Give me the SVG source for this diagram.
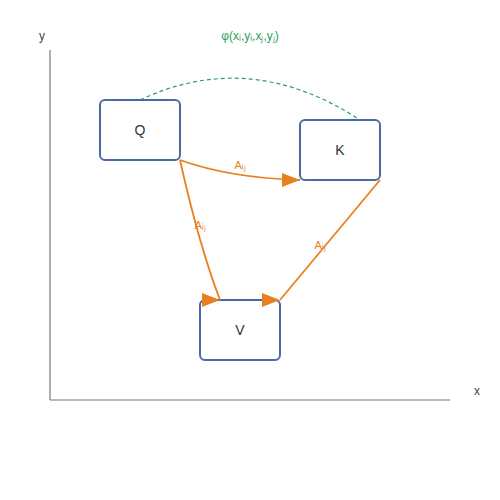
<svg xmlns="http://www.w3.org/2000/svg" width="500" height="500" viewBox="0 0 500 500">
<style>
.axis{stroke:#777;stroke-width:1.2;fill:none}
.axl{font-family:"Liberation Sans",Arial,sans-serif;font-size:12px;fill:#444}
.box{fill:#fff;stroke:#4a69a6;stroke-width:2}
.nt{font-family:"Liberation Sans",Arial,sans-serif;font-size:14px;fill:#333;text-anchor:middle;dominant-baseline:central}
.edge{stroke:#e8801f;stroke-width:1.8;fill:none}
.el{font-family:"Liberation Sans",Arial,sans-serif;font-size:11px;fill:#e8801f;text-anchor:middle}
.phi{stroke:#2ca05a;stroke-width:1.2;fill:none;stroke-dasharray:4,3}
.pl{font-family:"Liberation Sans",Arial,sans-serif;font-size:12px;fill:#2ca05a;text-anchor:middle}
</style>
<defs>
<marker id="arr" markerWidth="18" markerHeight="14" refX="18" refY="7" markerUnits="userSpaceOnUse">
<path d="M0,0 L18,7 L0,14 Z" fill="#e8801f"/>
</marker>
</defs>
<g id="axes">
<line class="axis" x1="50" y1="50" x2="50" y2="400"/>
<line class="axis" x1="50" y1="400" x2="450" y2="400"/>
<text class="axl" x="39" y="40">y</text>
<text class="axl" x="474" y="395">x</text>
</g>
<g id="Q"><rect class="box" x="100" y="100" width="80" height="60" rx="5"/><text class="nt" x="140" y="130">Q</text></g>
<g id="K"><rect class="box" x="300" y="120" width="80" height="60" rx="5"/><text class="nt" x="340" y="150">K</text></g>
<g id="V"><rect class="box" x="200" y="300" width="80" height="60" rx="5"/><text class="nt" x="240" y="330">V</text></g>
<g id="connectors">
<path class="phi" d="M140,100 Q250,48 360,120"/>
<text class="pl" x="250" y="40">φ(xᵢ,yᵢ,xⱼ,yⱼ)</text>
<path class="edge" d="M180,160 Q230,178 300,180" marker-end="url(#arr)"/>
<text class="el" x="240" y="169">Aᵢⱼ</text>
<path class="edge" d="M180,160 Q199,245 220,300" marker-end="url(#arr)"/>
<text class="el" x="200" y="229">Aᵢⱼ</text>
<path class="edge" d="M380,180 L280,300" marker-end="url(#arr)"/>
<text class="el" x="320" y="249">Aᵢⱼ</text>
</g>
</svg>
